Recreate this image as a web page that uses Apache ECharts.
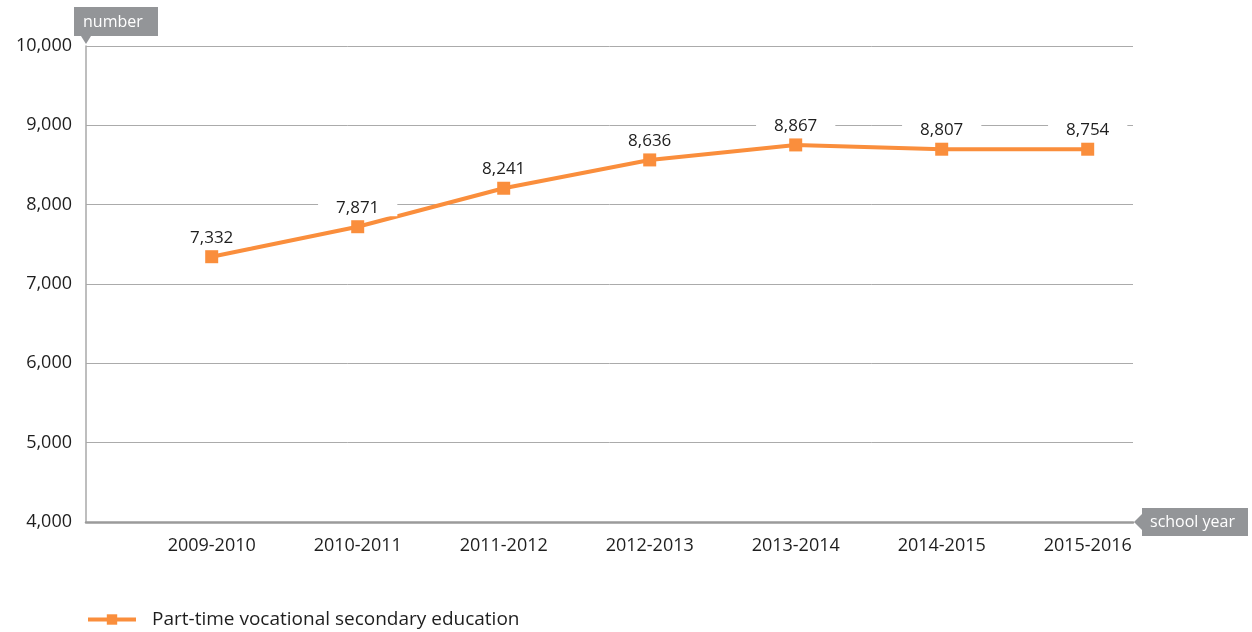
<!DOCTYPE html>
<html>
<head>
<meta charset="utf-8">
<script src="https://cdn.jsdelivr.net/npm/echarts@6/dist/echarts.min.js"></script>
<style>html,body{margin:0;padding:0;background:#fff}#c{width:1252px;height:632px}</style>
</head>
<body>
<div id="c"></div>
<script>
const categories = ['2009-2010','2010-2011','2011-2012','2012-2013','2013-2014','2014-2015','2015-2016'];
const values = [7344, 7722, 8207, 8564, 8753, 8699, 8699];
const valueLabels = ['7,332','7,871','8,241','8,636','8,867','8,807','8,754'];
const seriesName = 'Part-time vocational secondary education';
const yTicks = [4000, 10000, 1000];
const yAxisName = 'number';
const xAxisName = 'school year';

const FONT = '"Open Sans", sans-serif';
const ORANGE = '#FA8E3C';
const GREY = '#939598';

const chart = echarts.init(document.getElementById('c'));
chart.setOption({
  animation: false,
  textStyle: { fontFamily: FONT },
  grid: [
    { left: 86, right: 119, top: 46, bottom: 110 },
    { left: 138.7, right: 91.3, top: 46, bottom: 110 }
  ],
  xAxis: [
    { gridIndex: 0, type: 'value', min: 0, max: 1, axisLabel: { show: false }, axisTick: { show: false },
      splitLine: { show: false }, axisLine: { show: true, lineStyle: { color: '#9B9B9B', width: 2.5 } } },
    { gridIndex: 1, type: 'category', data: categories, boundaryGap: true,
      axisLine: { show: false }, axisTick: { show: false },
      axisLabel: { fontSize: 18, color: '#1E1E1E', margin: 15, fontFamily: FONT } }
  ],
  yAxis: [
    { gridIndex: 0, type: 'value', min: yTicks[0], max: yTicks[1], interval: yTicks[2],
      axisLine: { show: true, lineStyle: { color: '#A8A8A8', width: 1.5 } },
      axisTick: { show: false },
      splitLine: { lineStyle: { color: '#ABABAB', width: 1 } },
      axisLabel: { fontSize: 18, color: '#1E1E1E', margin: 14, fontFamily: FONT,
        formatter: v => v.toLocaleString('en-US') } },
    { gridIndex: 1, type: 'value', min: yTicks[0], max: yTicks[1], interval: yTicks[2], show: false }
  ],
  legend: {
    left: 81, top: 605, itemWidth: 48, itemHeight: 13,
    lineStyle: { width: 4 },
    textStyle: { fontSize: 19, color: '#1E1E1E', fontFamily: FONT, padding: [0, 0, 0, 11] },
    data: [seriesName]
  },
  series: [{
    name: seriesName, type: 'line', xAxisIndex: 1, yAxisIndex: 1,
    data: values, symbol: 'rect', symbolSize: 13,
    itemStyle: { color: ORANGE }, lineStyle: { color: ORANGE, width: 4 },
    label: { show: true, position: 'top', distance: 4, fontSize: 17, color: '#1E1E1E', fontFamily: FONT,
      backgroundColor: '#fff', padding: [1, 18, 0, 18],
      formatter: p => valueLabels[p.dataIndex] }
  }],
  graphic: [
    { type: 'group', left: 74, top: 7, children: [
      { type: 'rect', shape: { x: 0, y: 0, width: 84, height: 29 }, style: { fill: GREY } },
      { type: 'polygon', shape: { points: [[7, 29], [17, 29], [12, 37]] }, style: { fill: GREY } },
      { type: 'text', x: 9, y: 15, style: { text: yAxisName, fill: '#fff', fontSize: 16, fontFamily: FONT, verticalAlign: 'middle' } }
    ]},
    { type: 'group', left: 1134, top: 508, children: [
      { type: 'polygon', shape: { points: [[0, 14], [8, 6], [8, 22]] }, style: { fill: GREY } },
      { type: 'rect', shape: { x: 8, y: 0, width: 106, height: 28 }, style: { fill: GREY } },
      { type: 'text', x: 16, y: 14, style: { text: xAxisName, fill: '#fff', fontSize: 16, fontFamily: FONT, verticalAlign: 'middle' } }
    ]}
  ]
});
</script>
</body>
</html>
